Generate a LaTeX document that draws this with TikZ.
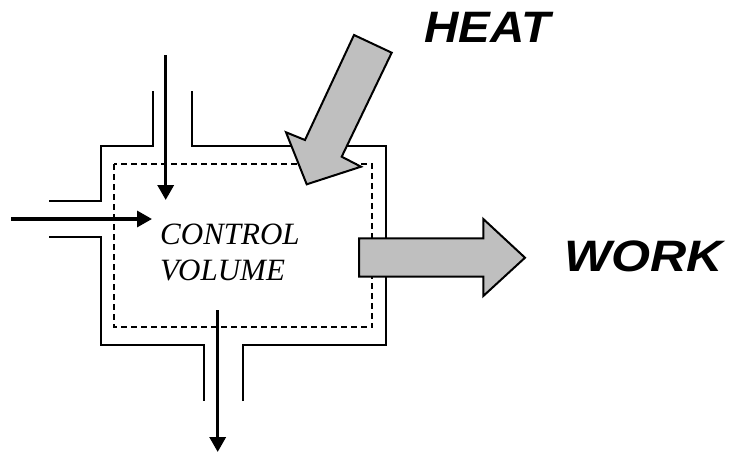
\documentclass[tikz,border=0pt]{standalone}
\usepackage{fontspec}
\setmainfont{Liberation Serif}
\setsansfont{Liberation Sans}
\usetikzlibrary{arrows.meta}
\begin{document}
\begin{tikzpicture}[x=1pt,y=-1pt,
  wall/.style={line width=2pt,line join=miter},
  cvline/.style={line width=2pt,dash pattern=on 6pt off 4pt},
  flow/.style={line width=3.3pt,-{Triangle[length=15pt,width=16pt]}},
  bigarrow/.style={draw=black,fill=black!25,line width=2pt,line join=miter},
  bigtext/.style={font=\sffamily\bfseries\itshape\fontsize{44}{44}\selectfont,inner sep=0pt,anchor=base west},
  cvtext/.style={font=\itshape\fontsize{31}{36}\selectfont,inner sep=0pt,anchor=base west}]
\useasboundingbox (0,0) rectangle (738,453);
% outer wall
\draw[wall] (153.3,91) -- (153.3,146) -- (101,146) -- (101,200.7) -- (49,200.7);
\draw[wall] (49,237.3) -- (101,237.3) -- (101,345) -- (204.3,345) -- (204.3,401);
\draw[wall] (242.7,401) -- (242.7,345) -- (385.7,345) -- (385.7,146) -- (191.7,146) -- (191.7,91);
% control volume
\draw[cvline] (114.3,164) rectangle (372.3,327.3);
% mass flows
\coordinate (topS) at (165.7,55);
\coordinate (topE) at (165.7,200);
\coordinate (leftS) at (11,219);
\coordinate (leftE) at (152,219);
\coordinate (botS) at (217.7,310);
\coordinate (botE) at (217.7,452);
\draw[flow] (topS) -- (topE);
\draw[flow] (leftS) -- (leftE);
\draw[flow] (botS) -- (botE);
% heat arrow
\draw[bigarrow] (354,35) -- (391.7,52.7) -- (341.7,156.7) -- (361,166.7) -- (306.7,184.3) -- (286,132.3) -- (305,140) -- cycle;
% work arrow
\draw[bigarrow] (359,238.3) -- (483.3,238.3) -- (483.3,219) -- (525,257.7) -- (483.3,296) -- (483.3,276.7) -- (359,276.7) -- cycle;
% labels
\node[cvtext] (cv1) at (160,244) {CONTROL};
\node[cvtext] (cv2) at (160,280) {VOLUME};
\node[bigtext,xscale=1.08] (heat) at (424,42.5) {HEAT};
\node[bigtext,xscale=1.14] (work) at (564,271.5) {WORK};
\end{tikzpicture}
\end{document}
